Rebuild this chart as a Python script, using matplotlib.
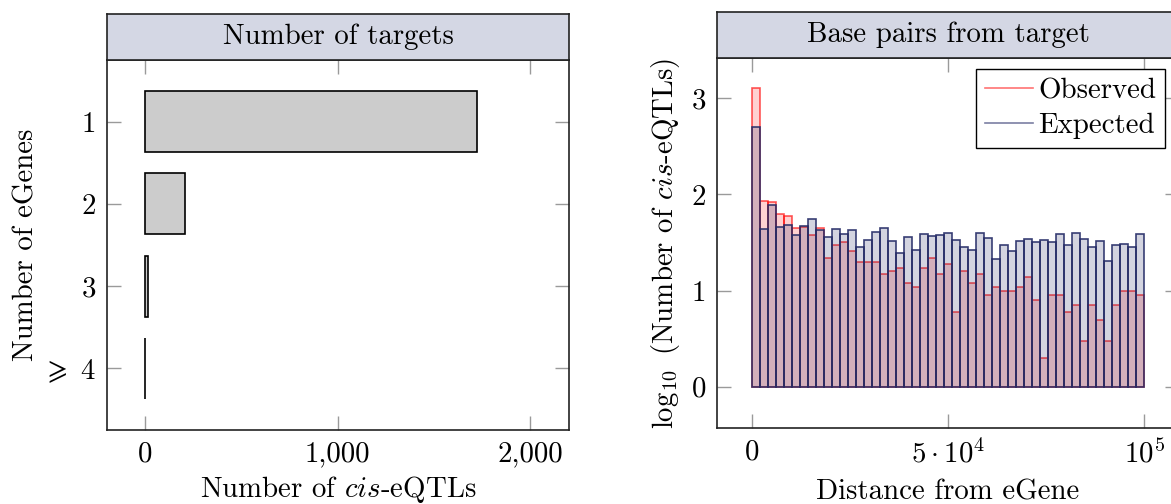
import numpy as np
import matplotlib
matplotlib.use("Agg")
import matplotlib.pyplot as plt
from matplotlib.lines import Line2D

plt.rcParams["font.family"] = ["cmr10", "DejaVu Serif"]
plt.rcParams["mathtext.fontset"] = "cm"
plt.rcParams["axes.formatter.use_mathtext"] = True
plt.rcParams["axes.unicode_minus"] = False

# ---- data: number of eGenes targeted per cis-eQTL ----
egene_categories = [1, 2, 3, 4]
egene_labels = ["1", "2", "3", r"$\geqslant\ 4$"]
eqtl_counts = [1722, 208, 17, 2]

# ---- data: distance of cis-eQTLs from their eGene (49 bins over 0..1e5 bp) ----
distance_min, distance_max = 0, 100000
observed_counts = [1280, 85, 83, 63, 59, 45, 46, 38, 45, 22,
                   30, 32, 26, 20, 20, 20, 15, 16, 17, 12,
                   11, 17, 22, 15, 19, 6, 16, 12, 15, 9,
                   11, 10, 10, 11, 14, 8, 2, 9, 9, 6,
                   7, 3, 7, 5, 3, 7, 10, 10, 9]
expected_log10 = [2.707, 1.643, 1.890, 1.661, 1.682, 1.581, 1.675, 1.745, 1.630, 1.553,
                  1.643, 1.590, 1.633, 1.456, 1.529, 1.612, 1.654, 1.515, 1.390, 1.553,
                  1.425, 1.591, 1.564, 1.578, 1.602, 1.526, 1.453, 1.421, 1.602, 1.550,
                  1.331, 1.470, 1.408, 1.515, 1.539, 1.502, 1.526, 1.502, 1.588, 1.470,
                  1.602, 1.539, 1.456, 1.515, 1.310, 1.470, 1.487, 1.456, 1.588]

W, H = 1171, 504
fig = plt.figure(figsize=(W / 100, H / 100), dpi=100)

FS = 20.8
HEADER = "#d4d7e4"
SPINE = "#222222"
TICK = "#9a9a9a"


def px_axes(x0, y0, x1, y1):
    """Axes from pixel box (x0, y0 top-left, x1, y1 bottom-right)."""
    return fig.add_axes([x0 / W, 1 - y1 / H, (x1 - x0) / W, (y1 - y0) / H])


def header(x0, y0, x1, y1, text):
    hx = px_axes(x0, y0, x1, y1)
    hx.set_facecolor(HEADER)
    hx.set_xticks([])
    hx.set_yticks([])
    for s in hx.spines.values():
        s.set_color(SPINE)
        s.set_linewidth(1.2)
    hx.text(0.5, 0.5, text, ha="center", va="center", fontsize=FS,
            transform=hx.transAxes)
    return hx


def style(ax):
    for s in ax.spines.values():
        s.set_color(SPINE)
        s.set_linewidth(1.2)
    ax.tick_params(direction="in", length=10, width=1, color=TICK,
                   top=True, right=True, labelsize=FS, pad=8)


# ---------------- left panel ----------------
axL = px_axes(107, 60, 569, 430)
header(107, 14, 569, 60, "Number of targets")
axL.barh(egene_categories, eqtl_counts, height=0.74, color="#cccccc",
         edgecolor="black", linewidth=1.2, zorder=3)
axL.set_ylim(4.75, 0.25)
axL.set_xlim(-197, 2200)
axL.set_yticks(egene_categories)
axL.set_yticklabels(egene_labels)
axL.set_xticks([0, 1000, 2000])
axL.set_xticklabels(["0", "1,000", "2,000"])
style(axL)
axL.set_xlabel(r"Number of $\mathit{cis}$-eQTLs", fontsize=FS, labelpad=5)
axL.set_ylabel("Number of eGenes", fontsize=FS, labelpad=2)

# ---------------- right panel ----------------
axR = px_axes(717, 58, 1179, 428)
header(717, 12, 1179, 58, "Base pairs from target")
edges = np.linspace(distance_min, distance_max, len(observed_counts) + 1)
widths = np.diff(edges)
obs_log10 = np.log10(observed_counts)

red = (1.0, 0.0, 0.0)
navy = (0.14, 0.17, 0.40)
axR.bar(edges[:-1], obs_log10, width=widths, align="edge",
        facecolor=red + (0.18,), edgecolor=red + (0.65,), linewidth=1.2, zorder=2)
axR.bar(edges[:-1], expected_log10, width=widths, align="edge",
        facecolor=navy + (0.2,), edgecolor=navy + (0.9,), linewidth=1.2, zorder=3)
axR.set_xlim(-8900, 108900)
axR.set_ylim(-0.43, 3.42)
axR.set_yticks([0, 1, 2, 3])
axR.set_yticklabels(["0", "1", "2", "3"])
axR.set_xticks([0, 50000, 100000])
axR.set_xticklabels(["0", r"$5\cdot 10^4$", r"$10^5$"])
style(axR)
axR.set_xlabel("Distance from eGene", fontsize=FS, labelpad=8)
axR.set_ylabel(r"$\log_{10}$ (Number of $\mathit{cis}$-eQTLs)", fontsize=FS, labelpad=7)

handles = [Line2D([], [], color=red, alpha=0.55, lw=1.2),
           Line2D([], [], color=navy, alpha=0.6, lw=1.2)]
leg = axR.legend(handles, ["Observed", "Expected"], loc="upper right",
                 bbox_to_anchor=(1165 / W, 1 - 69 / H), bbox_transform=fig.transFigure,
                 borderaxespad=0, fontsize=FS, fancybox=False, framealpha=1,
                 edgecolor="black", handlelength=1.65, handletextpad=0.2,
                 borderpad=0.3, labelspacing=0.3)
leg.get_frame().set_linewidth(1.0)

fig.savefig("out.png", dpi=100)
